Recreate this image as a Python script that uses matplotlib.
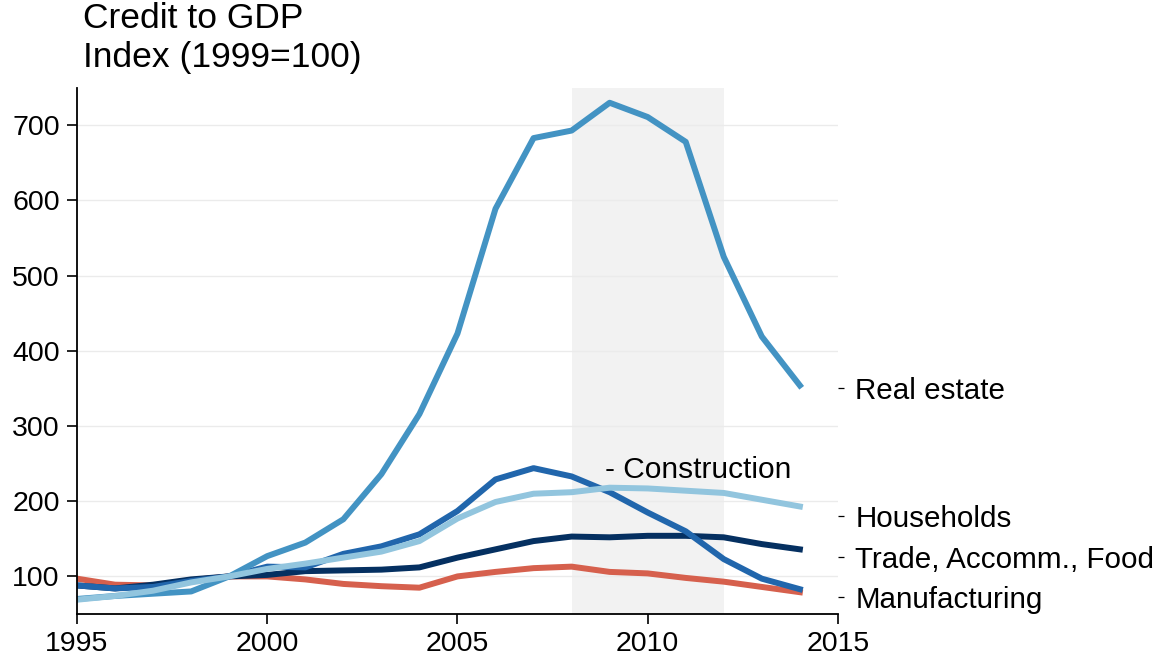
import matplotlib.pyplot as plt
import numpy as np

plt.rcParams['font.family'] = ['Liberation Sans', 'DejaVu Sans']

years = np.arange(1995, 2015)

real_estate = [70, 74, 77, 80, 100, 127, 145, 176, 236, 316, 423, 589, 683, 693, 730, 711, 678, 525, 419, 354]
construction = [88, 84, 86, 94, 100, 113, 112, 130, 140, 156, 187, 229, 244, 233, 212, 185, 160, 123, 97, 83]
households = [69, 74, 81, 92, 100, 110, 117, 125, 133, 147, 177, 199, 210, 212, 218, 217, 214, 211, 202, 193]
trade = [88, 84, 89, 96, 100, 102, 107, 108, 109, 112, 125, 136, 147, 153, 152, 154, 154, 152, 143, 136]
manufacturing = [97, 89, 88, 95, 100, 100, 96, 90, 87, 85, 100, 106, 111, 113, 106, 104, 98, 93, 86, 79]

end_labels = ['Real estate', 'Households', 'Trade, Accomm., Food', 'Manufacturing']
end_label_y = [351, 180, 126, 72]

colors = {
    'real_estate': '#4393c3',
    'construction': '#2166ac',
    'households': '#92c5de',
    'trade': '#053061',
    'manufacturing': '#d6604d',
}


def main():
    fig = plt.figure(figsize=(11.67, 6.62), dpi=100)
    ax = fig.add_axes([0.066, 0.0725, 0.652, 0.795])

    ax.axvspan(2008, 2012, color='#f2f2f2', zorder=0, lw=0)
    for v in range(100, 800, 100):
        ax.axhline(v, color='#ebebeb', lw=1, zorder=0.5)

    lw = 4.3
    ax.plot(years, manufacturing, color=colors['manufacturing'], lw=lw)
    ax.plot(years, trade, color=colors['trade'], lw=lw)
    ax.plot(years, construction, color=colors['construction'], lw=lw)
    ax.plot(years, real_estate, color=colors['real_estate'], lw=lw)
    ax.plot(years, households, color=colors['households'], lw=lw)

    ax.set_xlim(1995, 2015)
    ax.set_ylim(50, 750)
    ax.set_xticks([1995, 2000, 2005, 2010, 2015])
    ax.set_yticks(range(100, 800, 100))
    ax.tick_params(labelsize=20.5, length=7.5, width=1.2, direction='out', pad=5)
    for s in ['top', 'right']:
        ax.spines[s].set_visible(False)
    ax.spines['left'].set_linewidth(1.3)
    ax.spines['bottom'].set_linewidth(1.3)

    ax.text(2008.88, 242, '- Construction', fontsize=21.5, ha='left', va='center')

    ax2 = ax.twinx()
    ax2.set_ylim(ax.get_ylim())
    ax2.set_yticks(end_label_y)
    ax2.set_yticklabels(end_labels)
    ax2.tick_params(labelsize=21.3, length=4.5, width=0.9, pad=8)
    for s in ax2.spines.values():
        s.set_visible(False)

    fig.text(0.071, 0.947, 'Credit to GDP', fontsize=25.5, ha='left', va='bottom')
    fig.text(0.071, 0.888, 'Index (1999=100)', fontsize=25.5, ha='left', va='bottom')

    fig.savefig('out.png', dpi=100)


if __name__ == '__main__':
    main()
